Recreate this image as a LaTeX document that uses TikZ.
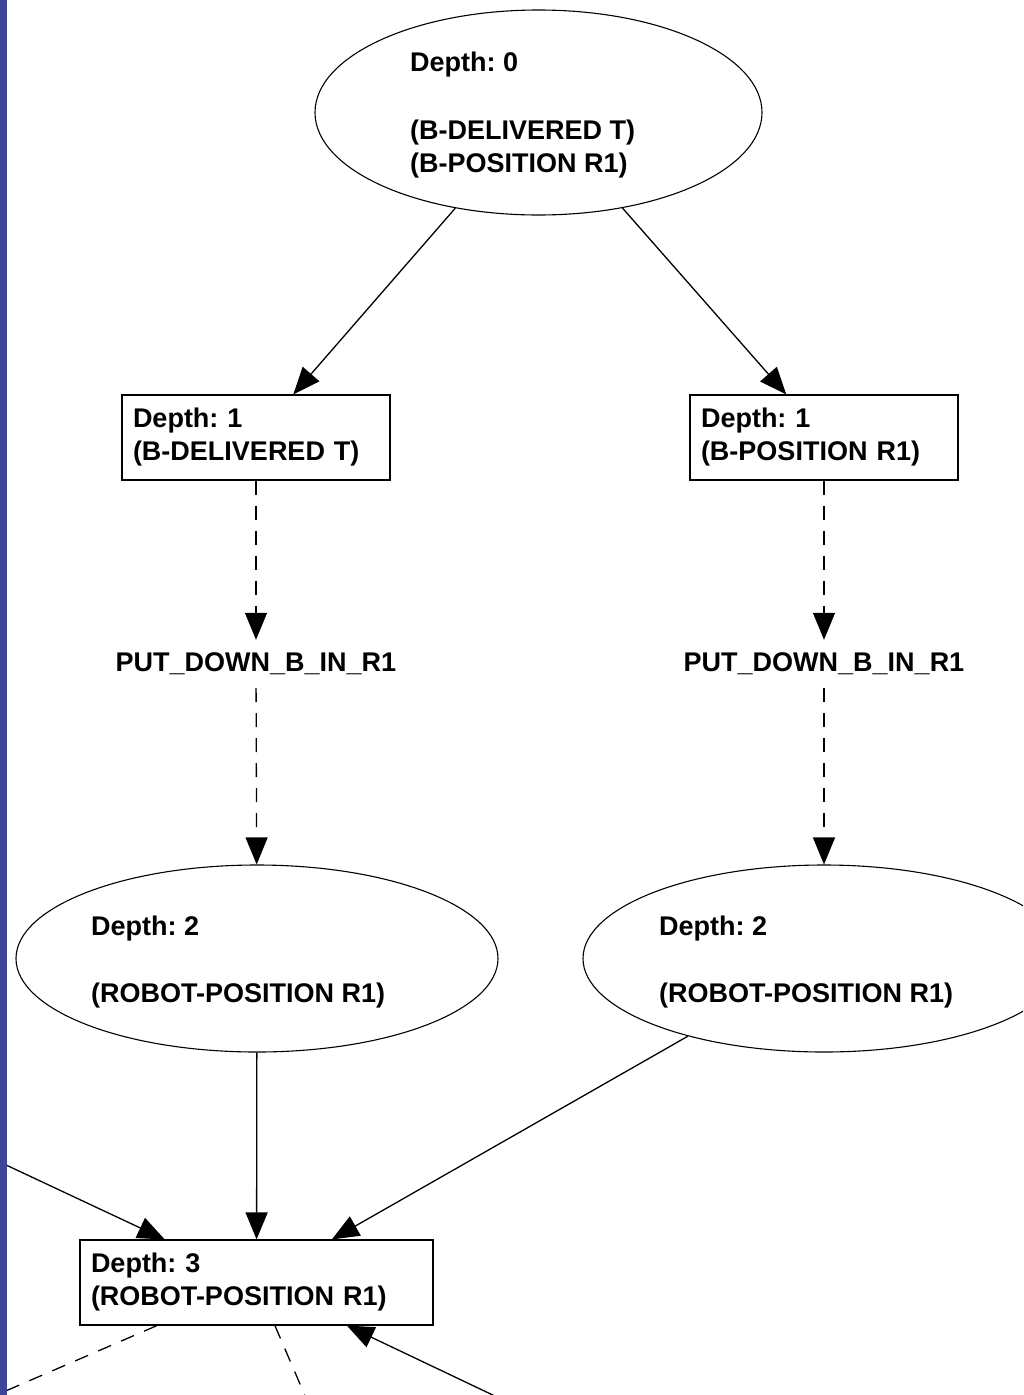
\documentclass[tikz,border=0pt]{standalone}
\usepackage{fontspec}
\setmainfont{Liberation Sans}
\usetikzlibrary{shapes.geometric,arrows.meta}
\definecolor{barblue}{RGB}{61,69,150}
\frenchspacing
\begin{document}
\begin{tikzpicture}[x=1pt,y=-1pt,
  every node/.style={font=\fontsize{27}{33}\selectfont\bfseries},
  ell/.style={draw,ellipse,line width=1.1pt,inner sep=0pt},
  txt/.style={align=left,inner sep=0pt,anchor=west},
  box/.style={draw,rectangle,line width=1.2pt,align=left,inner xsep=11pt,inner ysep=0pt,minimum height=85pt},
  act/.style={inner sep=0pt,minimum height=48pt},
  conn/.style={line width=1.3pt,-{Triangle[length=27pt,width=22pt]}},
  dconn/.style={conn,dash pattern=on 14pt off 11pt},
  dline/.style={line width=1.3pt,dash pattern=on 14pt off 11pt}
]
\clip (0,0) rectangle (1023,1395);
\fill[white] (0,0) rectangle (1023,1395);

% depth 0
\node[ell,minimum width=447pt,minimum height=205pt] (e0) at (538.5,112.5) {};
\node[txt] (t0) at (410,115) {Depth: 0\\[35pt](B-DELIVERED T)\\(B-POSITION R1)};

% depth 1
\node[box,text width=246pt] (b1l) at (256,437.5) {Depth: 1\\(B-DELIVERED T)};
\node[box,text width=246pt] (b1r) at (824,437.5) {Depth: 1\\(B-POSITION R1)};

% actions
\node[act] (a1l) at (256,664) {PUT\_DOWN\_B\_IN\_R1};
\node[act] (a1r) at (824,664) {PUT\_DOWN\_B\_IN\_R1};

% depth 2
\node[ell,minimum width=482pt,minimum height=187pt] (e2l) at (257,958.5) {};
\node[txt] (t2l) at (91,962) {Depth: 2\\[34pt](ROBOT-POSITION R1)};
\node[ell,minimum width=482pt,minimum height=187pt] (e2r) at (824,958.5) {};
\node[txt] (t2r) at (659,962) {Depth: 2\\[34pt](ROBOT-POSITION R1)};

% depth 3
\node[box,text width=331pt] (b3) at (256.5,1282.5) {Depth: 3\\(ROBOT-POSITION R1)};

% off-picture ends
\coordinate (inl) at (-60,1134);
\coordinate (inr) at (560,1427);
\coordinate (outl) at (-50,1415);
\coordinate (outb) at (324,1440);

% connectors
\draw[conn] (e0) -- (b1l);
\draw[conn] (e0) -- (b1r);
\draw[dconn] (b1l) -- (a1l);
\draw[dconn] (a1l) -- (e2l);
\draw[dconn] (b1r) -- (a1r);
\draw[dconn] (a1r) -- (e2r);
\draw[conn] (e2l) -- (b3);
\draw[conn] (e2r) -- (b3);
\draw[conn] (inl) -- (b3);
\draw[conn] (inr) -- (b3);
\draw[dline] (b3) -- (outl);
\draw[dline] (b3) -- (outb);

% left bar
\fill[barblue] (0,0) rectangle (6.5,1395);
\end{tikzpicture}
\end{document}
